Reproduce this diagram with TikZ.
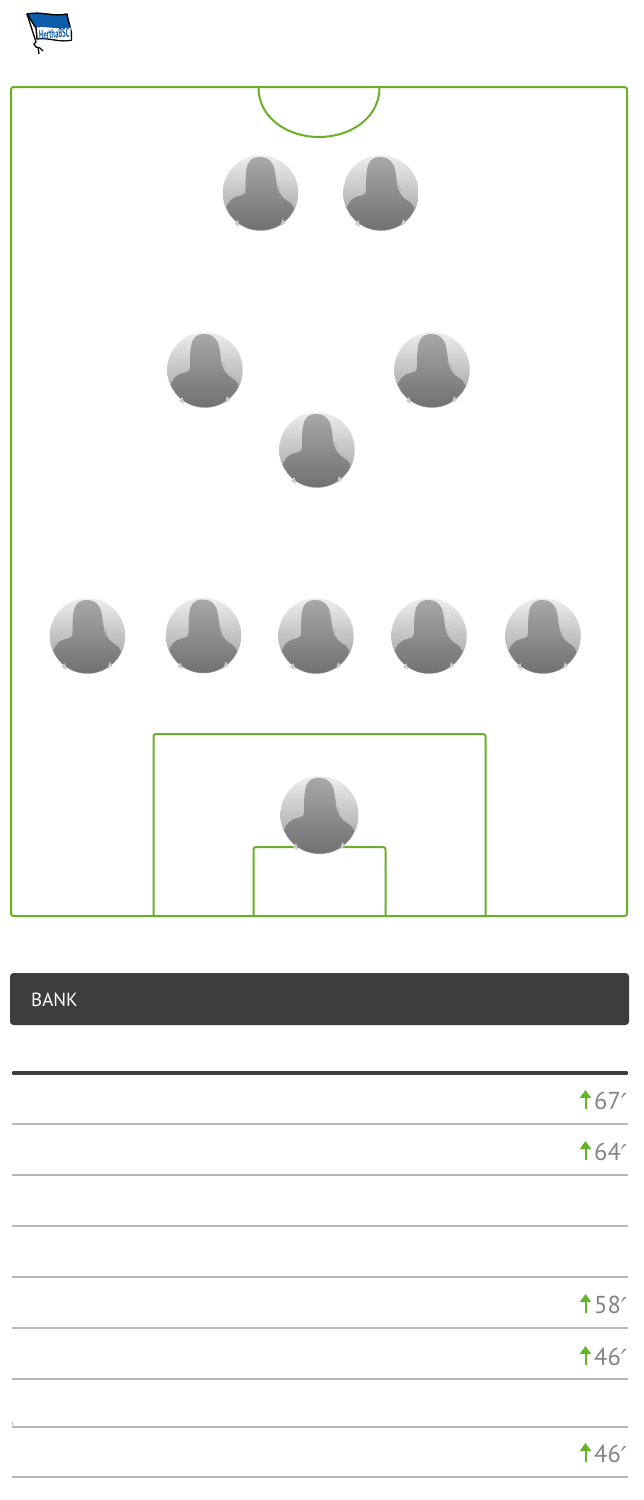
\documentclass[tikz,border=0pt]{standalone}
\usepackage{fontspec}
\setmainfont{PT Sans}
\newfontfamily\primefont{DejaVu Sans}
\usetikzlibrary{arrows.meta}
\definecolor{pitch}{HTML}{6AAF27}
\definecolor{subgreen}{HTML}{63B32B}
\definecolor{bar}{HTML}{3C3C3C}
\definecolor{rule}{HTML}{B6B6B6}
\definecolor{minute}{HTML}{858585}
\definecolor{hertha}{HTML}{0F5DAA}
\tikzset{
  pitchline/.style={draw=pitch,line width=2pt,rounded corners=2.5pt},
  rowline/.style={draw=rule,line width=2pt},
  toprow/.style={draw=bar,line width=3.4pt,line cap=round},
  subarrow/.style={draw=subgreen,line width=2pt,-{Triangle[length=8pt,width=11pt]}},
  minutetext/.style={text=minute,font=\fontsize{24.5}{24.5}\selectfont,anchor=base east,inner sep=0pt},
  avatarbase/.style={circle,inner sep=0pt,minimum size=#1,top color=black!7,bottom color=black!40},
}
% #1 name, #2 x, #3 y, #4 diameter
\newcommand{\playerimg}[4]{%
  \node[avatarbase=#4pt] (#1) at (#2,#3) {};
  \begin{scope}[shift={(#2,#3)},scale=#4/75.5]
    \begin{scope}
      \clip (0,0) circle (37.2);
      \clip (-1,-36) .. controls (-6,-36) and (-10,-34) .. (-12,-30)
        .. controls (-15,-25) and (-15,-12) .. (-15,-3)
        .. controls (-15,1) and (-17,2) .. (-22,3)
        .. controls (-28,4) and (-33,9) .. (-35,17)
        .. controls (-34,21) and (-31,26) .. (-27,30)
        -- (-27,40) -- (24,40) -- (24,30)
        .. controls (29,25) and (32,21) .. (34,17)
        .. controls (32,11) and (29,9) .. (27,8)
        .. controls (22,5) and (19,1) .. (17,-5)
        .. controls (15,-14) and (15,-24) .. (12,-29)
        .. controls (9,-34) and (5,-36) .. (-1,-36) -- cycle;
      \shade[top color=black!34,bottom color=black!56] (-38,-37) rectangle (38,38);
    \end{scope}
    \begin{scope}
      \clip (0,0) circle (37.2);
      \fill[black!34!white] (-35,18) .. controls (-32,24) and (-28,28) .. (-25,31) -- (-37,30) -- cycle;
      \fill[black!34!white] (34,18) .. controls (31,23) and (27,27) .. (24,31) -- (37,30) -- cycle;
    \end{scope}
    \fill[black!20] (-26,31) -- (-22.5,27) -- (-21,34) -- cycle;
    \fill[black!20] (20,33) -- (22,26) -- (25,30) -- cycle;
    \draw[black!32,line width=.5pt] (15,-8) .. controls (20,-8) and (21,-1) .. (17,0);
  \end{scope}}
\begin{document}
\begin{tikzpicture}[x=1pt,y=-1pt]
\useasboundingbox (0,0) rectangle (644,1500);
\fill[white] (0,0) rectangle (644,1500);
% logo
\fill[hertha,draw=black,line width=1.4pt,line join=round] (27,14) .. controls (42,11) and (52,17) .. (67,14)
  .. controls (68,20) and (70,26) .. (71.5,33) -- (71.5,40)
  .. controls (60,43) and (48,37) .. (37,39) -- (36,28) -- cycle;
\fill[white] (36.8,27.5) .. controls (48,26) and (58,30) .. (70.5,27.5) -- (70.8,39.5)
  .. controls (60,42) and (48,36.5) .. (37.8,38.3) -- cycle;
\draw[black,line width=1.3pt] (27,14) -- (36,42) -- (34,44) -- (36,47) -- (40,48) (38,47) -- (39,54) (40,48) -- (43,51);
\node[inner sep=0pt,text=hertha,font=\bfseries\fontsize{11}{11}\selectfont,xscale=.6,yscale=1.15,rotate=3] (logotext) at (54.3,33.8) {HerthaBSC};
% pitch
\draw[pitchline] (11,87) rectangle (627,916);
\coordinate (arcl) at (258.5,87);
\coordinate (arcr) at (379.5,87);
\draw[draw=pitch,line width=2pt] (arcl) .. controls (258.5,120) and (290,137) .. (319,137) .. controls (348,137) and (379.5,120) .. (arcr);
\draw[pitchline] (153.5,916) -- (153.5,734) -- (485.5,734) -- (485.5,916);
\draw[pitchline] (253.5,916) -- (253.5,847) -- (385.5,847) -- (385.5,916);
% players
\playerimg{p1}{260.5}{193}{75.5}
\playerimg{p2}{381}{193}{75.5}
\playerimg{p3}{205}{370}{75.5}
\playerimg{p4}{432}{370}{75.5}
\playerimg{p5}{317}{450}{75.5}
\playerimg{p6}{87.5}{636}{75.5}
\playerimg{p7}{203.5}{635.5}{75.5}
\playerimg{p8}{316}{636}{75.5}
\playerimg{p9}{429}{636}{75.5}
\playerimg{p10}{543}{636}{75.5}
\playerimg{p11}{319.5}{815}{78}
% bank
\fill[bar,rounded corners=3.5pt] (10,973) rectangle (629,1025);
\node[anchor=base west,inner sep=0pt,text=white,font=\fontsize{19}{19}\selectfont] (bank) at (31,1006) {BANK};
% rows
\draw[toprow] (13.5,1073) -- (626.5,1073);
\foreach \yy in {1124,1175,1226,1277,1328,1379,1427,1477}{
  \draw[rowline] (12,\yy) -- (628,\yy);
}
\draw[draw=rule,line width=1pt] (12.5,1422) -- (12.5,1425);
% substitutions
\foreach \nm/\yy/\mm in {a/1109/67,b/1160/64,c/1313/58,d/1365/46,e/1462/46}{
  \coordinate (s\nm) at (585.5,\yy);
  \coordinate (t\nm) at (585.5,\yy-19);
  \draw[subarrow] (s\nm) -- (t\nm);
  \node[minutetext] (m\nm) at (627,\yy) {\mm\raisebox{-3pt}{\primefont\fontsize{26}{26}\selectfont\itshape ′}};
}
\end{tikzpicture}
\end{document}
